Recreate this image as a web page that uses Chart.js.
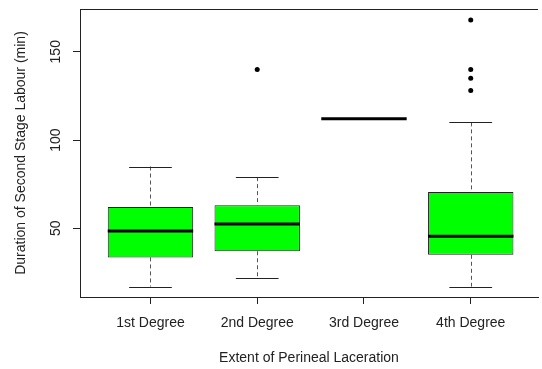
<!DOCTYPE html>
<html>
<head>
<meta charset="utf-8">
<script src="https://cdn.jsdelivr.net/npm/chart.js@4"></script>
<style>
  body { margin: 0; background: #fff; }
  #wrap { width: 542px; height: 369px; }
</style>
</head>
<body>
<div id="wrap"><canvas id="laceration" width="542" height="369"></canvas></div>
<script>
const categories = ['1st Degree', '2nd Degree', '3rd Degree', '4th Degree'];
const whiskerLow = [17, 22, 112, 17];
const lowerQuartile = [33.5, 37, 112, 35];
const median = [48.5, 52.5, 112, 45.5];
const upperQuartile = [62, 63, 112, 70.5];
const whiskerHigh = [85, 79, 112, 110];
const outlierGroup = [2, 4, 4, 4, 4];
const outlierValue = [140, 168, 140, 135, 128];
const yTicks = [50, 100, 150];

const boxes = categories.map((c, i) => ({ x: i + 1, y: [lowerQuartile[i], upperQuartile[i]] }));
const outliers = outlierValue.map((v, i) => ({ x: outlierGroup[i], y: v }));

const textColor = '#222';
const lineColor = '#222';
const font = { family: 'Liberation Sans, Arial, sans-serif', size: 14 };

// dashed whiskers under the boxes, caps + medians over them, frame top and y labels last
const boxplotLines = {
  id: 'boxplotLines',
  beforeDatasetsDraw(chart) {
    const { ctx, scales: { x, y } } = chart;
    ctx.save();
    ctx.lineWidth = 1;
    ctx.strokeStyle = '#555';
    ctx.setLineDash([4, 3]);
    categories.forEach((c, i) => {
      if (whiskerLow[i] === whiskerHigh[i]) return;
      const px = Math.round(x.getPixelForValue(i + 1)) + 0.5;
      ctx.beginPath();
      ctx.moveTo(px, y.getPixelForValue(whiskerHigh[i]));
      ctx.lineTo(px, y.getPixelForValue(upperQuartile[i]));
      ctx.moveTo(px, y.getPixelForValue(lowerQuartile[i]));
      ctx.lineTo(px, y.getPixelForValue(whiskerLow[i]));
      ctx.stroke();
    });
    ctx.restore();
  },
  afterDatasetsDraw(chart) {
    const { ctx, scales: { x, y } } = chart;
    ctx.save();
    categories.forEach((c, i) => {
      if (whiskerLow[i] !== whiskerHigh[i]) {
        ctx.lineWidth = 1;
        ctx.strokeStyle = lineColor;
        ctx.beginPath();
        [whiskerLow[i], whiskerHigh[i]].forEach(v => {
          const py = Math.round(y.getPixelForValue(v)) + 0.5;
          ctx.moveTo(x.getPixelForValue(i + 0.8), py);
          ctx.lineTo(x.getPixelForValue(i + 1.2), py);
        });
        ctx.stroke();
      }
      ctx.lineWidth = 3;
      ctx.strokeStyle = '#000';
      const my = y.getPixelForValue(median[i]);
      ctx.beginPath();
      ctx.moveTo(x.getPixelForValue(i + 0.6), my);
      ctx.lineTo(x.getPixelForValue(i + 1.4), my);
      ctx.stroke();
    });
    ctx.restore();
  },
  afterDraw(chart) {
    const { ctx, chartArea, scales: { y } } = chart;
    ctx.save();
    ctx.lineWidth = 1;
    ctx.strokeStyle = lineColor;
    ctx.beginPath();
    ctx.moveTo(chartArea.left, chartArea.top + 0.5);
    ctx.lineTo(chartArea.right, chartArea.top + 0.5);
    ctx.stroke();
    ctx.fillStyle = textColor;
    ctx.font = font.size + 'px ' + font.family;
    ctx.textAlign = 'center';
    ctx.textBaseline = 'middle';
    yTicks.forEach(v => {
      ctx.save();
      ctx.translate(56, y.getPixelForValue(v));
      ctx.rotate(-Math.PI / 2);
      ctx.fillText(String(v), 0, 0);
      ctx.restore();
    });
    ctx.restore();
  }
};

const canvas = document.getElementById('laceration');
const laceration = new Chart(canvas, {
  type: 'bar',
  data: {
    datasets: [
      {
        type: 'bar',
        data: boxes,
        backgroundColor: '#00ff00',
        borderColor: lineColor,
        borderWidth: 1,
        borderSkipped: false,
        barPercentage: 0.8,
        categoryPercentage: 1
      },
      {
        type: 'scatter',
        data: outliers,
        pointRadius: 2.5,
        backgroundColor: '#000',
        borderWidth: 0
      }
    ]
  },
  options: {
    responsive: false,
    animation: false,
    layout: { padding: { top: 9, right: 0, bottom: 0, left: 0 } },
    plugins: { legend: { display: false }, tooltip: { enabled: false } },
    scales: {
      x: {
        type: 'linear',
        min: 0.34,
        max: 4.63,
        offset: false,
        afterBuildTicks: s => { s.ticks = [1, 2, 3, 4].map(v => ({ value: v })); },
        afterFit: s => { s.height = 72; },
        ticks: {
          callback: (v, i) => categories[i],
          color: textColor,
          font: font,
          padding: 11,
          autoSkip: false,
          maxRotation: 0
        },
        grid: { drawOnChartArea: false, offset: false, tickLength: 7, color: lineColor },
        border: { display: true, color: lineColor },
        title: {
          display: true,
          text: 'Extent of Perineal Laceration',
          color: textColor,
          font: font,
          padding: { top: 0, bottom: 2 }
        }
      },
      y: {
        min: 11.1,
        max: 174.2,
        afterBuildTicks: s => { s.ticks = yTicks.map(v => ({ value: v })); },
        afterFit: s => { s.width = 80; },
        ticks: { display: false },
        grid: { drawOnChartArea: false, tickLength: 7, color: lineColor },
        border: { display: true, color: lineColor },
        title: {
          display: true,
          text: 'Duration of Second Stage Labour (min)',
          color: textColor,
          font: font,
          padding: { top: 13, bottom: 0 }
        }
      }
    }
  },
  plugins: [boxplotLines]
});
</script>
</body>
</html>
